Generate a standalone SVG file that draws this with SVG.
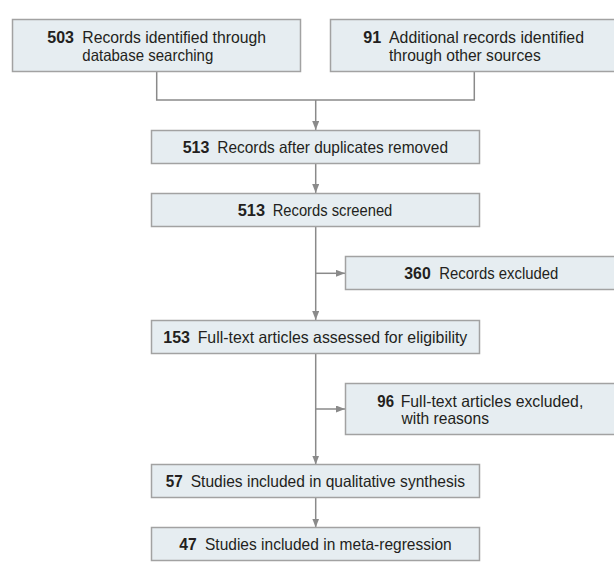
<svg xmlns="http://www.w3.org/2000/svg" width="614" height="579" viewBox="0 0 614 579">
<defs>
<style>
.box{fill:#e6edf1;stroke:#a2a2a2;stroke-width:1.5}
.t{font-family:"Liberation Sans",Arial,sans-serif;font-size:16.5px;fill:#231f20}
.n{font-weight:bold}
.c{fill:none;stroke:#8a8a8a;stroke-width:1.5}
</style>
<marker id="ah" viewBox="0 0 9 7" refX="9" refY="3.5" markerWidth="9" markerHeight="7" markerUnits="userSpaceOnUse" orient="auto">
<path d="M0,0 L9,3.5 L0,7 z" fill="#8a8a8a"/>
</marker>
</defs>
<rect width="614" height="579" fill="#ffffff"/>
<g id="connectors">
<path class="c" d="M156.7,71.7 V100 H474.3 V71.7"/>
<path class="c" d="M315.7,100 V130" marker-end="url(#ah)"/>
<path class="c" d="M315.7,163.7 V193" marker-end="url(#ah)"/>
<path class="c" d="M315.7,226.7 V320" marker-end="url(#ah)"/>
<path class="c" d="M315.7,273.3 H345" marker-end="url(#ah)"/>
<path class="c" d="M315.7,353.3 V464.5" marker-end="url(#ah)"/>
<path class="c" d="M315.7,409 H345" marker-end="url(#ah)"/>
<path class="c" d="M315.7,497.7 V527.5" marker-end="url(#ah)"/>
</g>
<g id="n1">
<rect class="box" x="12.5" y="19.5" width="288" height="52"/>
<text class="t"><tspan class="n" x="47.3" y="43.3" textLength="26.7" lengthAdjust="spacingAndGlyphs">503</tspan><tspan x="82.3" y="43.3" textLength="183.7" lengthAdjust="spacingAndGlyphs">Records identified through</tspan><tspan x="82.3" y="61" textLength="131" lengthAdjust="spacingAndGlyphs">database searching</tspan></text>
</g>
<g id="n2">
<rect class="box" x="330.5" y="19.5" width="290" height="52"/>
<text class="t"><tspan class="n" x="363.3" y="43.3" textLength="18" lengthAdjust="spacingAndGlyphs">91</tspan><tspan x="389" y="43.3" textLength="195" lengthAdjust="spacingAndGlyphs">Additional records identified</tspan><tspan x="389" y="61" textLength="151.7" lengthAdjust="spacingAndGlyphs">through other sources</tspan></text>
</g>
<g id="n3">
<rect class="box" x="151.5" y="130.5" width="328" height="33"/>
<text class="t"><tspan class="n" x="182.7" y="153" textLength="26.7" lengthAdjust="spacingAndGlyphs">513</tspan><tspan x="217.3" y="153" textLength="230.7" lengthAdjust="spacingAndGlyphs">Records after duplicates removed</tspan></text>
</g>
<g id="n4">
<rect class="box" x="151.5" y="193.5" width="328" height="33"/>
<text class="t"><tspan class="n" x="237.7" y="216" textLength="27.3" lengthAdjust="spacingAndGlyphs">513</tspan><tspan x="272.7" y="216" textLength="119.6" lengthAdjust="spacingAndGlyphs">Records screened</tspan></text>
</g>
<g id="n5">
<rect class="box" x="345.5" y="256.5" width="280" height="33"/>
<text class="t"><tspan class="n" x="404.3" y="279.3" textLength="26.4" lengthAdjust="spacingAndGlyphs">360</tspan><tspan x="439.3" y="279.3" textLength="119" lengthAdjust="spacingAndGlyphs">Records excluded</tspan></text>
</g>
<g id="n6">
<rect class="box" x="151.5" y="320.5" width="328" height="33"/>
<text class="t"><tspan class="n" x="163.3" y="343.3" textLength="26.7" lengthAdjust="spacingAndGlyphs">153</tspan><tspan x="197.7" y="343.3" textLength="269.6" lengthAdjust="spacingAndGlyphs">Full-text articles assessed for eligibility</tspan></text>
</g>
<g id="n7">
<rect class="box" x="345.5" y="383.5" width="280" height="51"/>
<text class="t"><tspan class="n" x="377.3" y="406.7" textLength="16.7" lengthAdjust="spacingAndGlyphs">96</tspan><tspan x="400.7" y="406.7" textLength="182.6" lengthAdjust="spacingAndGlyphs">Full-text articles excluded,</tspan><tspan x="401.5" y="423.5" textLength="87.5" lengthAdjust="spacingAndGlyphs">with reasons</tspan></text>
</g>
<g id="n8">
<rect class="box" x="151.5" y="464.5" width="328" height="33"/>
<text class="t"><tspan class="n" x="165.7" y="486.5" textLength="17" lengthAdjust="spacingAndGlyphs">57</tspan><tspan x="190.7" y="486.5" textLength="274.3" lengthAdjust="spacingAndGlyphs">Studies included in qualitative synthesis</tspan></text>
</g>
<g id="n9">
<rect class="box" x="151.5" y="527.5" width="328" height="33"/>
<text class="t"><tspan class="n" x="179.3" y="550" textLength="17.4" lengthAdjust="spacingAndGlyphs">47</tspan><tspan x="205" y="550" textLength="246.7" lengthAdjust="spacingAndGlyphs">Studies included in meta-regression</tspan></text>
</g>
</svg>
